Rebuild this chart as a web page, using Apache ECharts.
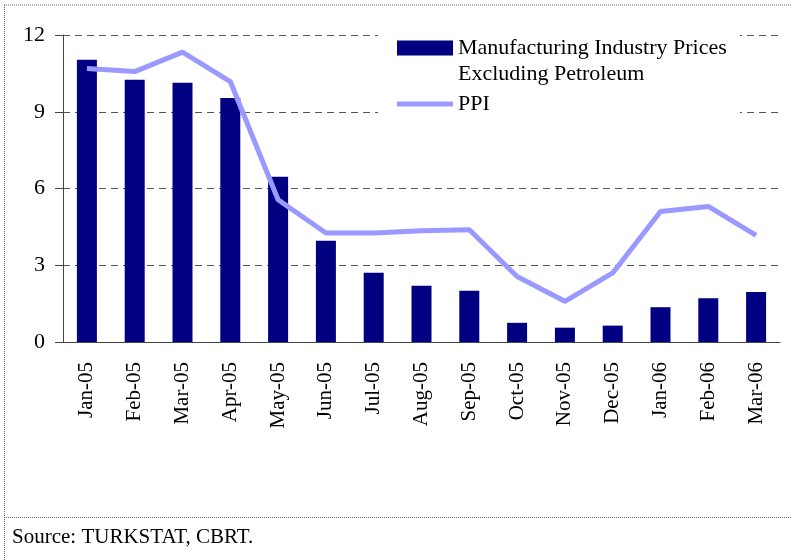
<!DOCTYPE html>
<html>
<head>
<meta charset="utf-8">
<script src="https://cdn.jsdelivr.net/npm/echarts@6/dist/echarts.min.js"></script>
<style>
  html, body { margin: 0; padding: 0; background: #fff; }
  #chart { width: 792px; height: 560px; }
</style>
</head>
<body>
<div id="chart"></div>
<script>
let months = ['Jan-05', 'Feb-05', 'Mar-05', 'Apr-05', 'May-05', 'Jun-05', 'Jul-05', 'Aug-05',
  'Sep-05', 'Oct-05', 'Nov-05', 'Dec-05', 'Jan-06', 'Feb-06', 'Mar-06'];
let manufExPetrol = [11.03, 10.25, 10.13, 9.54, 6.46, 3.96, 2.71, 2.2, 2.0, 0.75, 0.56, 0.64, 1.36, 1.71, 1.95];
let ppi = [10.69, 10.57, 11.33, 10.18, 5.56, 4.26, 4.26, 4.35, 4.39, 2.56, 1.59, 2.7, 5.1, 5.3, 4.17];
let yTicks = [0, 3, 6, 9, 12];

let barName = 'Manufacturing Industry Prices\nExcluding Petroleum';
let serif = '"Liberation Serif", "DejaVu Serif", serif';

let chartDom = document.getElementById('chart');
let myChart = echarts.init(chartDom);
let option;

option = {
	animation: false,
	backgroundColor: '#fff',
	textStyle: { fontFamily: serif },
	grid: {
		left: 63,
		right: 12,
		top: 35,
		bottom: 218
	},
	legend: {
		orient: 'vertical',
		left: 378,
		top: 4,
		padding: [5, 13, 5, 19],
		itemGap: 4,
		itemWidth: 56,
		itemHeight: 15,
		backgroundColor: '#fff',
		textStyle: {
			fontFamily: serif,
			fontSize: 22,
			color: '#000',
			lineHeight: 26
		},
		// blank first line keeps the marker level with the first text line
		formatter: function(name) {
			return name === barName ? ' \n' + name : name;
		},
		data: [{
				name: barName,
				icon: 'rect'
			},
			{
				name: 'PPI',
				icon: 'path://M0,0 L56,0 L56,5 L0,5 Z'
			}
		]
	},
	xAxis: {
		type: 'category',
		data: months,
		axisLine: { lineStyle: { color: '#444', width: 1 } },
		axisTick: { length: 7, lineStyle: { color: '#444' } },
		axisLabel: {
			rotate: 90,
			margin: 20,
			fontSize: 21,
			fontFamily: serif,
			color: '#000'
		}
	},
	yAxis: {
		type: 'value',
		min: yTicks[0],
		max: yTicks[yTicks.length - 1],
		interval: 3,
		axisLine: { show: true, lineStyle: { color: '#444', width: 1 } },
		axisTick: { show: true, length: 8, lineStyle: { color: '#444' } },
		axisLabel: {
			margin: 18,
			fontSize: 22,
			fontFamily: serif,
			color: '#000'
		},
		splitLine: {
			show: true,
			lineStyle: { color: '#555', type: [7, 5], width: 1 }
		}
	},
	series: [{
			name: barName,
			type: 'bar',
			data: manufExPetrol,
			barWidth: 20,
			itemStyle: { color: '#000080' }
		},
		{
			name: 'PPI',
			type: 'line',
			data: ppi,
			symbol: 'none',
			lineStyle: { color: '#9999ff', width: 5 },
			itemStyle: { color: '#9999ff' }
		}
	],
	graphic: [{
			type: 'line',
			z: 10,
			shape: { x1: 4, y1: 5, x2: 792, y2: 5 },
			style: { stroke: '#666', lineWidth: 1, lineDash: [1, 1] }
		},
		{
			type: 'line',
			z: 10,
			shape: { x1: 4.5, y1: 5, x2: 4.5, y2: 560 },
			style: { stroke: '#666', lineWidth: 1, lineDash: [1, 1] }
		},
		{
			type: 'line',
			z: 10,
			shape: { x1: 4, y1: 517.5, x2: 792, y2: 517.5 },
			style: { stroke: '#666', lineWidth: 1, lineDash: [1, 1] }
		},
		{
			type: 'text',
			left: 12,
			top: 527,
			style: {
				text: 'Source: TURKSTAT, CBRT.',
				font: '21px ' + serif,
				fill: '#000'
			}
		}
	]
};

option && myChart.setOption(option);
</script>
</body>
</html>
